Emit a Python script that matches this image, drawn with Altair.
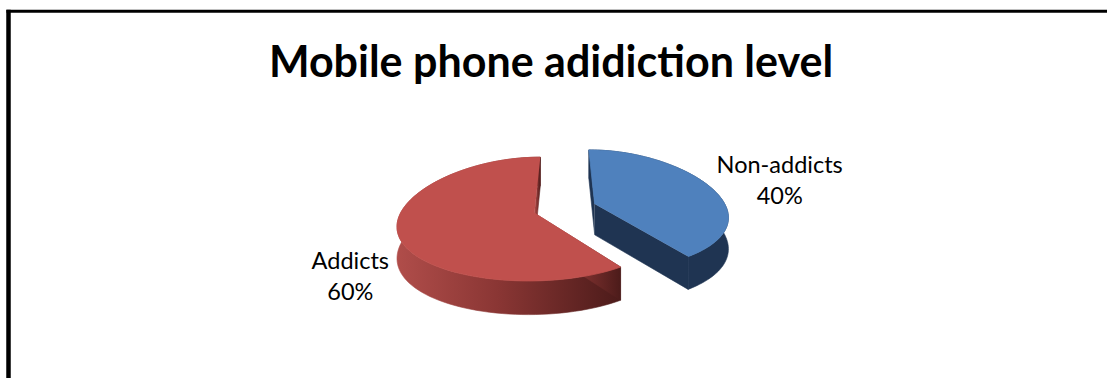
import altair as alt
import pandas as pd

# ---- data ----
categories = ["Non-addicts", "Addicts"]
shares = [40, 60]
title_text = ["Mobile phone adidiction level"]

# ---- style / layout ----
top_colors = ["#4F81BD", "#C0504D"]
blue_side = "#1F3452"
W, H = 1107, 378
CX, CY = 565, 208.5      # common pie centre (px)
A, B = 132, 61           # ellipse semi-axes (px)
C2 = 6                   # vertical perspective term
P = 0.195                # horizontal perspective factor
DEPTH = 31               # extrusion depth (px)
PD = 0.08
EXPLODE = 0.24
N = 90                   # arc resolution
LABEL_R = 1.47
LABEL_DY = -10

df = pd.DataFrame({"label": categories, "value": shares})

xs = alt.Scale(domain=[0, W], nice=False, zero=False)
ys = alt.Scale(domain=[0, H], nice=False, zero=False, reverse=True)
X = alt.X("px:Q", scale=xs, axis=None)
Y = alt.Y("py:Q", scale=ys, axis=None)

base = (
    alt.Chart(df)
    .transform_joinaggregate(total="sum(value)")
    .transform_window(cum="sum(value)")
    .transform_calculate(ths="2*PI*(datum.cum - datum.value)/datum.total")
    .transform_calculate(the="2*PI*datum.cum/datum.total")
    .transform_calculate(mid="(datum.ths + datum.the)/2")
)


def project(chart):
    return (
        chart.transform_calculate(U=f"{EXPLODE}*sin(datum.mid) + datum.r*sin(datum.th)")
        .transform_calculate(V=f"-{EXPLODE}*cos(datum.mid) - datum.r*cos(datum.th)")
        .transform_calculate(px=f"{CX} + {A}*datum.U*(1 + {P}*datum.V)")
        .transform_calculate(
            py=f"{CY} + {B}*datum.V + {C2}*datum.V*datum.V + datum.dy*(1 + {PD}*datum.V)"
        )
    )


# top faces
top = project(
    base.transform_calculate(k=f"sequence(0, {N + 2})")
    .transform_flatten(["k"])
    .transform_calculate(th=f"datum.ths + (datum.the - datum.ths)*(datum.k - 1)/{N}")
    .transform_calculate(r="datum.k == 0 ? 0 : 1")
    .transform_calculate(dy="0")
).mark_line(strokeWidth=0.8).encode(
    x=X,
    y=Y,
    fill=alt.Fill("label:N", scale=alt.Scale(domain=categories, range=top_colors), legend=None),
    stroke=alt.Stroke("label:N", scale=alt.Scale(domain=categories, range=top_colors), legend=None),
    detail="label:N",
    order="k:Q",
)

# side pieces: p=0 rim band, p=1 start edge face, p=2 end edge face
side = project(
    base.transform_calculate(p="sequence(0, 3)")
    .transform_flatten(["p"])
    .transform_calculate(k=f"sequence(0, datum.p == 0 ? {2 * N + 2} : 4)")
    .transform_flatten(["k"])
    .transform_calculate(
        th=(
            f"datum.p == 0 ? (datum.k <= {N} ? datum.ths + (datum.the - datum.ths)*datum.k/{N}"
            f" : datum.the - (datum.the - datum.ths)*(datum.k - {N + 1})/{N})"
            " : (datum.p == 1 ? datum.ths : datum.the)"
        )
    )
    .transform_calculate(r="datum.p == 0 ? 1 : ((datum.k == 1 || datum.k == 2) ? 1 : 0)")
    .transform_calculate(
        dy=f"datum.p == 0 ? (datum.k <= {N} ? 0 : {DEPTH}) : (datum.k >= 2 ? {DEPTH} : 0)"
    )
)

red_grad = alt.Gradient(
    gradient="linear",
    stops=[
        alt.GradientStop(color="#B04D4A", offset=0),
        alt.GradientStop(color="#8A3634", offset=0.45),
        alt.GradientStop(color="#4C1B1A", offset=1),
    ],
    x1=0, x2=1, y1=0, y2=0,
)

red_side = (
    side.transform_filter(f"datum.label == '{categories[1]}'")
    .mark_line(fill=red_grad, stroke=red_grad, strokeWidth=0.6)
    .encode(x=X, y=Y, detail="p:N", order="k:Q")
)
blue_side_layer = (
    side.transform_filter(f"datum.label == '{categories[0]}'")
    .mark_line(fill=blue_side, stroke=blue_side, strokeWidth=0.6)
    .encode(x=X, y=Y, detail="p:N", order="k:Q")
)

labels = (
    base.transform_calculate(LU=f"{EXPLODE + LABEL_R}*sin(datum.mid)")
    .transform_calculate(LV=f"-{EXPLODE + LABEL_R}*cos(datum.mid)")
    .transform_calculate(lx=f"{CX} + {A}*datum.LU")
    .transform_calculate(
        ly=f"{CY} + {B}*datum.LV + (datum.LV > 0 ? {DEPTH} : 0) + {LABEL_DY}"
    )
    .transform_calculate(txt="[datum.label, format(datum.value/datum.total, '.0%')]")
    .mark_text(font="Lato", fontSize=23.5, lineHeight=31, align="center", baseline="middle", color="black")
    .encode(x=alt.X("lx:Q", scale=xs, axis=None), y=alt.Y("ly:Q", scale=ys, axis=None), text="txt:N")
)

title = (
    alt.Chart(pd.DataFrame({"t": title_text}))
    .mark_text(font="Lato", fontWeight="bold", fontSize=43, align="center", baseline="alphabetic", color="black")
    .encode(x=alt.value(551), y=alt.value(77), text="t:N")
)

one = pd.DataFrame({"z": [0]})
border_left = alt.Chart(one).mark_rule(color="black", strokeWidth=4.5).encode(
    x=alt.value(8.5), y=alt.value(9.8), y2=alt.value(H)
)
border_top = alt.Chart(one).mark_rule(color="black", strokeWidth=3).encode(
    x=alt.value(6.5), x2=alt.value(W), y=alt.value(11.3)
)

chart = (
    alt.layer(border_left, border_top, title, red_side, blue_side_layer, top, labels)
    .properties(width=W, height=H, padding=0, autosize=alt.AutoSizeParams(type="none"))
    .configure_view(strokeWidth=0)
)

chart.save("out.html", embed_options={"renderer": "svg", "actions": False})
